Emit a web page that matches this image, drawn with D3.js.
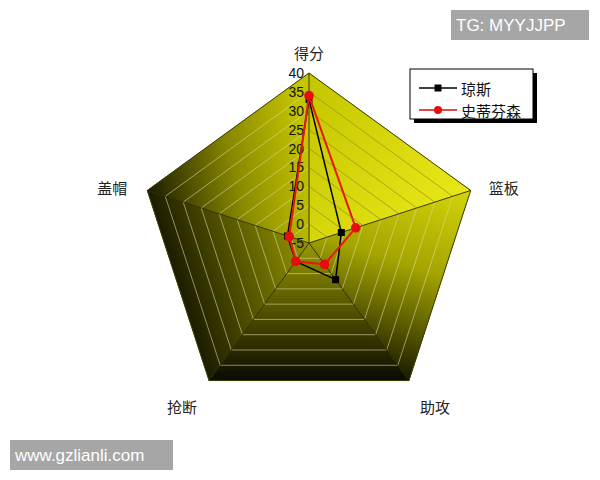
<!DOCTYPE html>
<html><head><meta charset="utf-8">
<script src="https://cdn.jsdelivr.net/npm/d3@7/dist/d3.min.js"></script>
<style>
html,body{margin:0;padding:0;background:#fff;}
svg{display:block;}
text{font-family:"Liberation Sans",Arial,sans-serif;}
.cjk{font-family:"Noto Sans CJK SC","Noto Sans",sans-serif;}
</style></head>
<body>
<svg id="chart" width="600" height="480"></svg>
<script>
const categories = ["得分", "篮板", "助攻", "抢断", "盖帽"];
const seriesNames = ["琼斯", "史蒂芬森"];
const jonesValues = [33, 4, 7, 1, 1];
const stephensonValues = [34, 8, 2, 1, 0.5];
const tickValues = [-5, 0, 5, 10, 15, 20, 25, 30, 35, 40];
const watermarkTop = "TG: MYYJJPP";
const watermarkBottom = "www.gzlianli.com";

const svg = d3.select("#chart");
const cx = 309, cy = 243, R = 170;
const r = d3.scaleLinear().domain([-5, 40]).range([0, R]);
const n = categories.length;
const angle = d3.scaleLinear().domain([0, n]).range([-Math.PI / 2, 3 * Math.PI / 2]);
const pt = (i, v) => [cx + r(v) * Math.cos(angle(i)), cy + r(v) * Math.sin(angle(i))];

const defs = svg.append("defs");
const V = d3.range(n).map(i => pt(i, 40));
const C = [cx, cy];
const mid = (a, b) => [(a[0] + b[0]) / 2, (a[1] + b[1]) / 2];

// per-face shading (3D look)
const faceGrad = [
  {from: V[0], to: V[1], stops: [[0, "#c4c400"], [1, "#e8e818"]]},
  {from: V[1], to: V[2], stops: [[0, "#d4d40a"], [0.45, "#a4a400"], [1, "#1a1a00"]]},
  {from: C, to: mid(V[2], V[3]), stops: [[0, "#989800"], [1, "#0a0a00"]]},
  {from: C, to: mid(V[3], V[4]), stops: [[0, "#969600"], [1, "#1c1c00"]]},
  {from: V[4], to: mid(V[0], C), stops: [[0, "#1c1c00"], [0.55, "#8a8a00"], [1, "#c4c400"]]}
];
faceGrad.forEach((g, i) => {
  const lg = defs.append("linearGradient").attr("id", "face" + i)
    .attr("gradientUnits", "userSpaceOnUse")
    .attr("x1", g.from[0]).attr("y1", g.from[1]).attr("x2", g.to[0]).attr("y2", g.to[1]);
  g.stops.forEach(s => lg.append("stop").attr("offset", s[0]).attr("stop-color", s[1]));
});

const gFaces = svg.append("g");
d3.range(n).forEach(i => {
  const a = V[i], b = V[(i + 1) % n];
  gFaces.append("path")
    .attr("d", `M${C[0]},${C[1]}L${a[0]},${a[1]}L${b[0]},${b[1]}Z`)
    .attr("fill", `url(#face${i})`)
    .attr("stroke", `url(#face${i})`).attr("stroke-width", 0.6);
});

// grid rings, segment per face
const gGrid = svg.append("g");
tickValues.filter(v => v > -5 && v < 40).forEach(v => {
  d3.range(n).forEach(i => {
    const a = pt(i, v), b = pt((i + 1) % n, v);
    gGrid.append("line")
      .attr("x1", a[0]).attr("y1", a[1]).attr("x2", b[0]).attr("y2", b[1])
      .attr("stroke", i === 0 ? "#8a8a10" : "#d8d8a0")
      .attr("stroke-opacity", i === 0 ? 0.8 : 0.75)
      .attr("stroke-width", 0.8);
  });
});
// outer edge
svg.append("path")
  .attr("d", d3.line()(V) + "Z")
  .attr("fill", "none").attr("stroke", "#3a3a00").attr("stroke-width", 1);
// radial axes
d3.range(n).forEach(i => {
  const a = V[i];
  svg.append("line").attr("x1", cx).attr("y1", cy).attr("x2", a[0]).attr("y2", a[1])
    .attr("stroke", "#2a2a00").attr("stroke-width", 0.9);
});

// tick labels along first axis
svg.append("g").selectAll("text").data(tickValues).join("text")
  .attr("x", cx - 5).attr("y", d => cy - r(d))
  .attr("text-anchor", "end").attr("dominant-baseline", "central")
  .attr("font-size", 14).attr("fill", "#111")
  .text(d => d);

// category labels
const labelOffsets = [[0, -21], [33, -3], [26, 26], [-27, 26], [-35, -3]];
svg.append("g").selectAll("text").data(categories).join("text")
  .attr("class", "cjk")
  .attr("x", (d, i) => V[i][0] + labelOffsets[i][0])
  .attr("y", (d, i) => V[i][1] + labelOffsets[i][1])
  .attr("text-anchor", "middle").attr("dominant-baseline", "central")
  .attr("font-size", 15).attr("fill", "#222")
  .text(d => d);

// series
const series = [
  {name: seriesNames[0], values: jonesValues, color: "#000000", width: 1.5, marker: "square"},
  {name: seriesNames[1], values: stephensonValues, color: "#e8180c", width: 2, marker: "circle"}
];
series.forEach(s => {
  const pts = s.values.map((v, i) => pt(i, v));
  svg.append("path").attr("d", d3.line()(pts) + "Z")
    .attr("fill", "none").attr("stroke", s.color).attr("stroke-width", s.width)
    .attr("stroke-linejoin", "round");
  const g = svg.append("g");
  pts.forEach(p => {
    if (s.marker === "square") {
      g.append("rect").attr("x", p[0] - 3.5).attr("y", p[1] - 3.5).attr("width", 7).attr("height", 7)
        .attr("fill", "#000");
    } else {
      g.append("circle").attr("cx", p[0]).attr("cy", p[1]).attr("r", 4.8).attr("fill", "#e80c0c");
    }
  });
});

// legend
const lg = svg.append("g").attr("transform", "translate(410,69)");
lg.append("rect").attr("x", 4).attr("y", 4).attr("width", 123).attr("height", 50).attr("fill", "#000");
lg.append("rect").attr("x", 0).attr("y", 0).attr("width", 123).attr("height", 50)
  .attr("fill", "#fff").attr("stroke", "#000").attr("stroke-width", 1);
series.forEach((s, i) => {
  const y = 19 + i * 22;
  lg.append("line").attr("x1", 9).attr("x2", 47).attr("y1", y).attr("y2", y)
    .attr("stroke", s.color === "#000000" ? "#000" : "#d01010").attr("stroke-width", 1.5);
  if (s.marker === "square") {
    lg.append("rect").attr("x", 28 - 3.5).attr("y", y - 3.5).attr("width", 7).attr("height", 7).attr("fill", "#000");
  } else {
    lg.append("circle").attr("cx", 28).attr("cy", y).attr("r", 4).attr("fill", "#e80c0c");
  }
  lg.append("text").attr("class", "cjk").attr("x", 51).attr("y", y)
    .attr("dominant-baseline", "central").attr("font-size", 15).attr("fill", "#111").text(s.name);
});

// watermarks
const wm1 = svg.append("g");
wm1.append("rect").attr("x", 451).attr("y", 10).attr("width", 138).attr("height", 30).attr("fill", "#a6a6a6");
wm1.append("text").attr("x", 456).attr("y", 25).attr("dominant-baseline", "central")
  .attr("font-size", 17).attr("fill", "#fff").text(watermarkTop);
const wm2 = svg.append("g");
wm2.append("rect").attr("x", 10).attr("y", 440).attr("width", 163).attr("height", 30).attr("fill", "#a6a6a6");
wm2.append("text").attr("x", 15).attr("y", 455).attr("dominant-baseline", "central")
  .attr("font-size", 17).attr("fill", "#fff").text(watermarkBottom);
</script>
</body></html>
